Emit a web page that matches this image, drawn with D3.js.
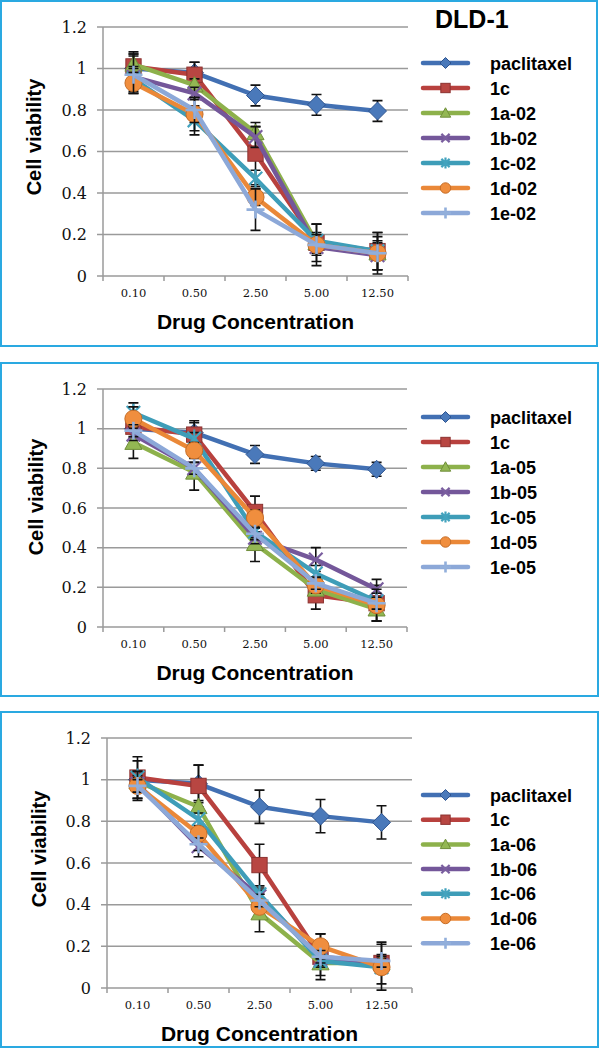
<!DOCTYPE html>
<html><head><meta charset="utf-8">
<script src="https://cdn.jsdelivr.net/npm/d3@7"></script>
<style>body{margin:0;background:#fff} svg{display:block}</style>
</head><body>
<script>
// ---------- DATA ----------
const categories = ["0.10", "0.50", "2.50", "5.00", "12.50"];
const yTicks = [0, 0.2, 0.4, 0.6, 0.8, 1, 1.2];

const names02 = ["paclitaxel", "1c", "1a-02", "1b-02", "1c-02", "1d-02", "1e-02"];
const values02 = [
  [1.00, 0.98, 0.87, 0.825, 0.795],
  [1.01, 0.97, 0.59, 0.16, 0.12],
  [1.02, 0.92, 0.69, 0.16, 0.11],
  [0.96, 0.88, 0.67, 0.14, 0.10],
  [0.95, 0.75, 0.47, 0.17, 0.12],
  [0.93, 0.78, 0.38, 0.15, 0.11],
  [0.97, 0.80, 0.32, 0.15, 0.11]
];
const errors02 = [
  [0.07, 0.05, 0.05, 0.05, 0.05],
  [0.07, 0.06, 0.15, 0.09, 0.09],
  [0.05, 0.03, 0.03, 0.03, 0.03],
  [0.04, 0.03, 0.05, 0.03, 0.07],
  [0.06, 0.07, 0.04, 0.04, 0.04],
  [0.05, 0.08, 0.04, 0.10, 0.08],
  [0.09, 0.06, 0.10, 0.05, 0.10]
];

const names05 = ["paclitaxel", "1c", "1a-05", "1b-05", "1c-05", "1d-05", "1e-05"];
const values05 = [
  [1.00, 0.98, 0.87, 0.825, 0.795],
  [1.01, 0.97, 0.58, 0.16, 0.12],
  [0.93, 0.78, 0.42, 0.19, 0.09],
  [0.97, 0.80, 0.45, 0.34, 0.19],
  [1.08, 0.95, 0.48, 0.27, 0.13],
  [1.05, 0.89, 0.55, 0.21, 0.11],
  [0.99, 0.80, 0.47, 0.22, 0.12]
];
const errors05 = [
  [0.05, 0.05, 0.045, 0.035, 0.035],
  [0.06, 0.07, 0.08, 0.07, 0.09],
  [0.08, 0.09, 0.09, 0.03, 0.06],
  [0.03, 0.03, 0.03, 0.06, 0.05],
  [0.05, 0.03, 0.03, 0.04, 0.04],
  [0.06, 0.04, 0.04, 0.04, 0.08],
  [0.03, 0.03, 0.03, 0.03, 0.03]
];

const names06 = ["paclitaxel", "1c", "1a-06", "1b-06", "1c-06", "1d-06", "1e-06"];
const values06 = [
  [1.00, 0.98, 0.87, 0.825, 0.795],
  [1.01, 0.97, 0.59, 0.15, 0.12],
  [0.99, 0.87, 0.36, 0.12, 0.12],
  [0.98, 0.68, 0.44, 0.14, 0.11],
  [1.01, 0.81, 0.45, 0.13, 0.10],
  [0.97, 0.74, 0.39, 0.20, 0.10],
  [0.97, 0.69, 0.42, 0.15, 0.13]
];
const errors06 = [
  [0.09, 0.09, 0.08, 0.08, 0.08],
  [0.10, 0.10, 0.10, 0.11, 0.10],
  [0.03, 0.03, 0.09, 0.06, 0.03],
  [0.03, 0.05, 0.03, 0.03, 0.03],
  [0.03, 0.03, 0.03, 0.03, 0.03],
  [0.07, 0.03, 0.03, 0.06, 0.11],
  [0.03, 0.03, 0.03, 0.03, 0.03]
];

// ---------- STYLE ----------
const lineColors = ["#4270B3", "#B8413E", "#8DB14B", "#74579A", "#3E9DB8", "#EA8838", "#8CA8D8"];
const fillColors = ["#4A79BA", "#B84642", "#93B753", "#7A5E9F", "#43A3BE", "#F08E3E", "#92AFDB"];
const edgeColors = ["#2F5590", "#8C3230", "#6F8E3A", "#5A4479", "#2F7F96", "#C66E28", "#6E8CBE"];
const markerTypes = ["diamond", "square", "triangle", "x", "asterisk", "circle", "plus"];

const panels = [
  {names: names02, values: values02, errors: errors02, box: [1, 1, 597, 346],
   top: 27, bottom: 276, left: 103, right: 408, legendY: 63, legendStep: 25,
   ylabX: 34, ylabY: 137, title: "DLD-1"},
  {names: names05, values: values05, errors: errors05, box: [1, 363, 598, 696],
   top: 389, bottom: 627, left: 103, right: 407, legendY: 417, legendStep: 25,
   ylabX: 36, ylabY: 497, title: null},
  {names: names06, values: values06, errors: errors06, box: [1, 712, 598, 1047],
   top: 738, bottom: 988, left: 107, right: 412, legendY: 795, legendStep: 24.7,
   ylabX: 39, ylabY: 849, title: null}
];

const svg = d3.select("body").append("svg").attr("width", 602).attr("height", 1050);

function drawMarker(g, type, i, s) {
  const fill = fillColors[i], edge = edgeColors[i];
  const r = s / 2;
  if (type === "diamond") {
    g.append("path").attr("d", `M0,${-r}L${r},0L0,${r}L${-r},0Z`)
      .attr("fill", fill).attr("stroke", edge).attr("stroke-width", 1);
  } else if (type === "square") {
    const h = r * 0.85;
    g.append("rect").attr("x", -h).attr("y", -h).attr("width", 2 * h).attr("height", 2 * h)
      .attr("fill", fill).attr("stroke", edge).attr("stroke-width", 1);
  } else if (type === "triangle") {
    const h = r * 0.95;
    g.append("path").attr("d", `M0,${-h}L${h},${h * 0.8}L${-h},${h * 0.8}Z`)
      .attr("fill", fill).attr("stroke", edge).attr("stroke-width", 1);
  } else if (type === "circle") {
    g.append("circle").attr("r", r * 0.95).attr("fill", fill)
      .attr("stroke", edge).attr("stroke-width", 1);
  } else if (type === "x") {
    const h = r * 0.75;
    g.append("path").attr("d", `M${-h},${-h}L${h},${h}M${-h},${h}L${h},${-h}`)
      .attr("stroke", fill).attr("stroke-width", 2.2);
  } else if (type === "asterisk") {
    const h = r * 0.75;
    g.append("path").attr("d", `M${-h},${-h}L${h},${h}M${-h},${h}L${h},${-h}M0,${-r}L0,${r}`)
      .attr("stroke", fill).attr("stroke-width", 2.2);
  } else if (type === "plus") {
    g.append("path").attr("d", `M${-r},0L${r},0M0,${-r}L0,${r}`)
      .attr("stroke", fill).attr("stroke-width", 2.6);
  }
}

panels.forEach(p => {
  const g = svg.append("g");
  const [bx0, by0, bx1, by1] = p.box;
  g.append("rect").attr("x", bx0).attr("y", by0).attr("width", bx1 - bx0).attr("height", by1 - by0)
    .attr("fill", "#fff").attr("stroke", "#2AA9E1").attr("stroke-width", 2);

  const x = d3.scaleBand().domain(categories).range([p.left, p.right]);
  const y = d3.scaleLinear().domain([0, 1.2]).range([p.bottom, p.top]);
  const cx = c => x(c) + x.bandwidth() / 2;

  g.append("g").selectAll("line").data(yTicks).join("line")
    .attr("x1", p.left - 6).attr("x2", p.right)
    .attr("y1", d => y(d)).attr("y2", d => y(d))
    .attr("stroke", "#9A9A9A").attr("stroke-width", 1.5);
  g.append("line").attr("x1", p.left).attr("x2", p.left).attr("y1", p.top).attr("y2", p.bottom)
    .attr("stroke", "#9A9A9A").attr("stroke-width", 1.5);
  const bounds = categories.map(c => x(c)).concat([p.right]);
  g.append("g").selectAll("line").data(bounds).join("line")
    .attr("x1", d => d).attr("x2", d => d).attr("y1", p.bottom).attr("y2", p.bottom + 5)
    .attr("stroke", "#9A9A9A").attr("stroke-width", 1.5);

  const yAxis = d3.axisLeft(y).tickValues(yTicks).tickSize(0).tickPadding(16)
    .tickFormat(d => String(+d.toFixed(1)));
  const ya = g.append("g").attr("transform", `translate(${p.left},0)`).call(yAxis);
  ya.select(".domain").remove();
  ya.selectAll("text").attr("font-family", "DejaVu Serif, serif").attr("font-size", 16).attr("fill", "#111");

  const xAxis = d3.axisBottom(x).tickSize(0).tickPadding(13);
  const xa = g.append("g").attr("transform", `translate(0,${p.bottom})`).call(xAxis);
  xa.select(".domain").remove();
  xa.selectAll("text").attr("font-family", "DejaVu Serif, serif").attr("font-size", 11.5).attr("fill", "#111");

  g.append("text").attr("x", (p.left + p.right) / 2).attr("y", p.bottom + 53)
    .attr("text-anchor", "middle").attr("font-family", "Liberation Sans, Arial, sans-serif")
    .attr("font-weight", "bold").attr("font-size", 21).text("Drug Concentration");
  g.append("text").attr("transform", `translate(${p.ylabX + 7},${p.ylabY}) rotate(-90)`)
    .attr("text-anchor", "middle").attr("font-family", "Liberation Sans, Arial, sans-serif")
    .attr("font-weight", "bold").attr("font-size", 20).text("Cell viability");

  if (p.title) {
    g.append("text").attr("x", 435).attr("y", 28).attr("font-family", "Liberation Sans, Arial, sans-serif")
      .attr("font-weight", "bold").attr("font-size", 25).text(p.title);
  }

  const line = d3.line().x((d, k) => cx(categories[k])).y(d => y(d));
  p.values.forEach((vals, i) => {
    const sg = g.append("g");
    vals.forEach((v, k) => {
      const e = p.errors[i][k];
      const xx = cx(categories[k]);
      sg.append("path")
        .attr("d", `M${xx},${y(v + e)}L${xx},${y(v - e)}M${xx - 5},${y(v + e)}L${xx + 5},${y(v + e)}M${xx - 5},${y(v - e)}L${xx + 5},${y(v - e)}`)
        .attr("stroke", "#111").attr("stroke-width", 1.6).attr("fill", "none");
    });
    sg.append("path").datum(vals).attr("d", line).attr("fill", "none")
      .attr("stroke", lineColors[i]).attr("stroke-width", 4.5).attr("stroke-linejoin", "round");
    vals.forEach((v, k) => {
      const mg = sg.append("g").attr("transform", `translate(${cx(categories[k])},${y(v)})`);
      drawMarker(mg, markerTypes[i], i, 18);
    });
  });

  p.names.forEach((n, i) => {
    const ly = p.legendY + i * p.legendStep;
    const lg = g.append("g");
    lg.append("line").attr("x1", 423).attr("x2", 468).attr("y1", ly).attr("y2", ly)
      .attr("stroke", lineColors[i]).attr("stroke-width", 4.5).attr("stroke-linecap", "round");
    const mg = lg.append("g").attr("transform", `translate(445.5,${ly})`);
    drawMarker(mg, markerTypes[i], i, 11);
    lg.append("text").attr("x", 490).attr("y", ly + 6.5).attr("font-family", "Liberation Sans, Arial, sans-serif")
      .attr("font-weight", "bold").attr("font-size", 18).text(n);
  });
});
</script>
</body></html>
